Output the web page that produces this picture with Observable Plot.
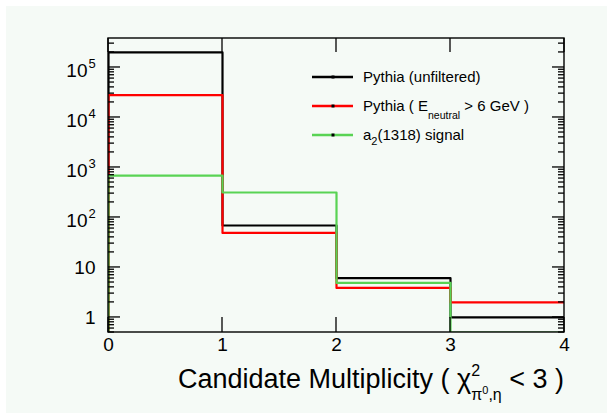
<!DOCTYPE html>
<html><head><meta charset="utf-8">
<script src="https://cdn.jsdelivr.net/npm/d3@7"></script>
<script src="https://cdn.jsdelivr.net/npm/@observablehq/plot@0.6"></script>
<style>body{margin:0;background:#fff;} #chart svg{display:block;}</style>
</head><body><div id="chart"></div>
<script>
// ---- data ----
const binEdges = [0, 1, 2, 3, 4];
const unfiltered = [200000, 69, 6.1, 1];
const neutralCut = [28000, 49, 3.9, 2];
const a2signal = [690, 316, 4.9, 0];
const seriesKeys = ["unfiltered", "neutral", "signal"];
const seriesColors = ["#000000", "#ff0000", "#59d354"];
const xTicks = [0, 1, 2, 3, 4];
const yTicks = [1, 10, 100, 1000, 10000, 100000];
const yDomain = [0.5, 3.8e5];
const xTitle = "Candidate Multiplicity";

const FONT = "'Liberation Sans', Arial, Helvetica, sans-serif";
const yMin = yDomain[0];

// step outline table built from the arrays
const seriesValues = [unfiltered, neutralCut, a2signal];
const steps = [];
seriesValues.forEach((vals, si) => {
  steps.push({s: seriesKeys[si], x: binEdges[0], y: yMin});
  vals.forEach((v, i) => steps.push({s: seriesKeys[si], x: binEdges[i], y: Math.max(v, yMin)}));
  steps.push({s: seriesKeys[si], x: binEdges[binEdges.length - 1], y: Math.max(vals[vals.length - 1], yMin)});
});

function background(index, scales, values, dims) {
  return d3.create("svg:rect").attr("x", 6).attr("y", 6)
    .attr("width", dims.width - 6).attr("height", dims.height - 8)
    .attr("fill", "#f5faf6").node();
}

function frameAndTicks(index, scales, values, dims) {
  const g = d3.create("svg:g").attr("stroke", "#000").attr("fill", "none");
  const l = dims.marginLeft, t = dims.marginTop;
  const r = dims.width - dims.marginRight, b = dims.height - dims.marginBottom;
  g.append("rect").attr("x", l).attr("y", t).attr("width", r - l).attr("height", b - t).attr("stroke-width", 1.4);
  for (let dec = Math.pow(10, Math.floor(Math.log10(yDomain[0]))); dec <= yDomain[1]; dec *= 10) {
    for (let k = 1; k <= 9; k++) {
      const v = k * dec;
      if (v < yDomain[0] || v > yDomain[1]) continue;
      const yy = scales.y(v);
      const len = k === 1 ? 12 : 6;
      g.append("line").attr("x1", l).attr("x2", l + len).attr("y1", yy).attr("y2", yy).attr("stroke-width", 1.3);
      g.append("line").attr("x1", r).attr("x2", r - len).attr("y1", yy).attr("y2", yy).attr("stroke-width", 1.3);
    }
  }
  for (const v of xTicks) {
    const xx = scales.x(v);
    g.append("line").attr("x1", xx).attr("x2", xx).attr("y1", b).attr("y2", b - 15).attr("stroke-width", 1.3);
    g.append("line").attr("x1", xx).attr("x2", xx).attr("y1", t).attr("y2", t + 14).attr("stroke-width", 1.3);
  }
  return g.node();
}

function titleAndLegend(index, scales, values, dims) {
  const g = d3.create("svg:g").attr("font-family", FONT).attr("fill", "#000").attr("text-anchor", "start");
  const r = dims.width - dims.marginRight, b = dims.height - dims.marginBottom;
  // x-axis title
  const tt = g.append("text").attr("x", r).attr("y", b + 56).attr("text-anchor", "end").attr("font-size", 27);
  tt.append("tspan").text(xTitle + " ( \u03C7");
  tt.append("tspan").attr("font-size", 16).attr("dy", -12).text("2");
  tt.append("tspan").attr("font-size", 16).attr("dx", -9).attr("dy", 24).text("\u03C0");
  tt.append("tspan").attr("font-size", 11).attr("dy", -6).text("0");
  tt.append("tspan").attr("font-size", 16).attr("dy", 6).text(",\u03B7");
  tt.append("tspan").attr("dy", -12).text(" < 3 )");
  // legend
  const lx = 312, ly = 77, step = 29;
  const labels = [
    [["Pythia (unfiltered)"]],
    [["Pythia ( E"], ["neutral", "sub"], [" > 6 GeV )", "back"]],
    [["a"], ["2", "sub2"], ["(1318) signal", "back2"]]
  ];
  labels.forEach((parts, i) => {
    const y = ly + i * step;
    g.append("line").attr("x1", lx).attr("x2", lx + 41).attr("y1", y).attr("y2", y)
      .attr("stroke", seriesColors[i]).attr("stroke-width", 2.5);
    g.append("rect").attr("x", lx + 19.5).attr("y", y - 1.5).attr("width", 3).attr("height", 3).attr("fill", "#000");
    const tx = g.append("text").attr("x", lx + 51).attr("y", y + 5).attr("font-size", 15).attr("text-anchor", "start");
    parts.forEach(([s, kind]) => {
      const ts = tx.append("tspan").text(s);
      if (kind === "sub") ts.attr("font-size", 10.5).attr("dy", 8);
      if (kind === "back") ts.attr("dy", -8);
      if (kind === "sub2") ts.attr("font-size", 11).attr("dy", 5);
      if (kind === "back2") ts.attr("dy", -5);
    });
  });
  return g.node();
}

const decadeLabels = yTicks.filter(v => v >= 100);
const plainLabels = yTicks.filter(v => v < 100);

const chart = Plot.plot({
  width: 607,
  height: 415,
  marginLeft: 108,
  marginRight: 43,
  marginTop: 38,
  marginBottom: 83,
  style: {background: "transparent", fontFamily: FONT},
  x: {domain: [binEdges[0], binEdges[binEdges.length - 1]], axis: null},
  y: {type: "log", domain: yDomain, axis: null},
  color: {domain: seriesKeys, range: seriesColors},
  marks: [
    background,
    Plot.line(steps, {x: "x", y: "y", z: "s", stroke: "s", curve: "step-after", strokeWidth: 2.2, clip: true}),
    frameAndTicks,
    Plot.text(xTicks, {x: d => d, frameAnchor: "bottom", dy: 18, text: d => String(d), fontSize: 19, fill: "#000"}),
    Plot.text(plainLabels, {y: d => d, frameAnchor: "left", dx: -13, textAnchor: "end", text: d => String(d), fontSize: 19, fill: "#000"}),
    Plot.text(decadeLabels, {y: d => d, frameAnchor: "left", dx: -21, dy: 3, textAnchor: "end", text: () => "10", fontSize: 19, fill: "#000"}),
    Plot.text(decadeLabels, {y: d => d, frameAnchor: "left", dx: -20, dy: -4, textAnchor: "start", text: d => String(Math.round(Math.log10(d))), fontSize: 13, fill: "#000"}),
    titleAndLegend
  ]
});
document.getElementById("chart").append(chart);
</script>
</body></html>
